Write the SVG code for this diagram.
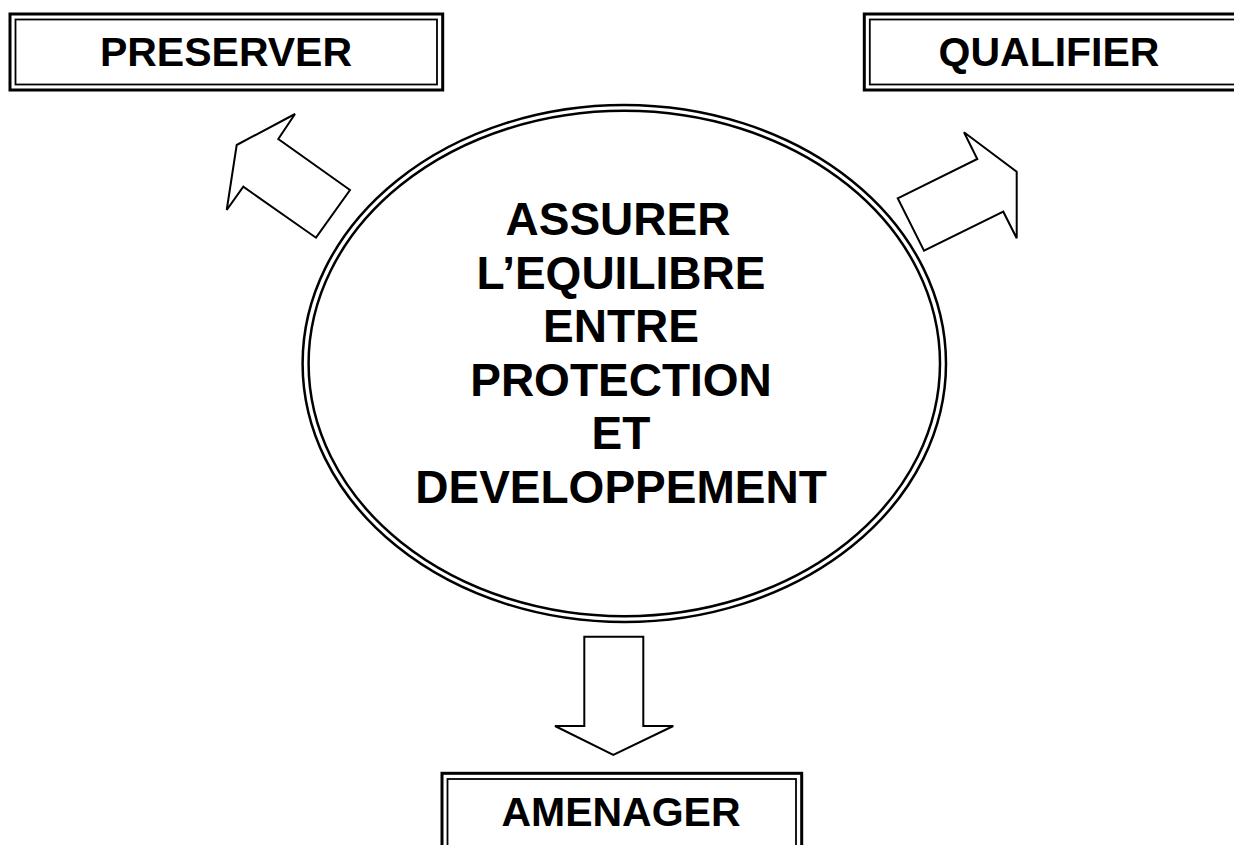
<svg xmlns="http://www.w3.org/2000/svg" width="1234" height="845" viewBox="0 0 1234 845">
  <style>
    .frame-outer { fill: #ffffff; stroke: #000000; stroke-width: 3; }
    .frame-inner { fill: none; stroke: #000000; stroke-width: 1.8; }
    .label { font-family: "Liberation Sans", Arial, sans-serif; font-weight: bold; fill: #000000; text-anchor: middle; }
    .box-label { font-size: 41px; }
    .core-label { font-size: 46px; }
    .arrow { fill: #ffffff; stroke: #000000; stroke-width: 2; stroke-linejoin: miter; }
    .ring { fill: none; stroke: #000000; stroke-width: 2.5; }
  </style>
  <rect width="1234" height="845" fill="#ffffff"/>

  <!-- central ellipse drawn as a double ring -->
  <g id="core">
    <ellipse class="ring" cx="624.3" cy="363.5" rx="321.7" ry="258.5" fill="#ffffff"/>
    <ellipse class="ring" cx="624.3" cy="363.5" rx="315.7" ry="252.7"/>
    <text class="label core-label" x="618" y="235">ASSURER</text>
    <text class="label core-label" x="621" y="288.5">L’EQUILIBRE</text>
    <text class="label core-label" x="621" y="342">ENTRE</text>
    <text class="label core-label" x="621" y="395.5">PROTECTION</text>
    <text class="label core-label" x="621" y="449">ET</text>
    <text class="label core-label" x="621" y="502.5">DEVELOPPEMENT</text>
  </g>

  <!-- block arrows -->
  <g id="connectors">
    <polygon class="arrow" points="350,190 278.3,139 295,114 236.7,145 226.7,210 243.3,186.7 316,237.7"/>
    <polygon class="arrow" points="897.7,198.3 977.3,159 964,132.3 1016.7,171.7 1016.7,238.3 1003.3,211.7 924,250.7"/>
    <polygon class="arrow" points="584.3,636.7 643.3,636.7 643.3,726 673.3,726 613.3,755 555,726 584.3,726"/>
  </g>

  <g id="preserver">
    <rect class="frame-outer" x="10" y="14" width="432.7" height="76"/>
    <rect class="frame-inner" x="15.5" y="19.5" width="421.5" height="65"/>
    <text class="label box-label" x="226" y="66">PRESERVER</text>
  </g>

  <g id="qualifier">
    <rect class="frame-outer" x="864.3" y="14" width="380" height="76"/>
    <rect class="frame-inner" x="869.8" y="19.5" width="370" height="65"/>
    <text class="label box-label" x="1049" y="66">QUALIFIER</text>
  </g>

  <g id="amenager">
    <rect class="frame-outer" x="442" y="773.3" width="359.7" height="90"/>
    <rect class="frame-inner" x="447.5" y="779" width="348.5" height="80"/>
    <text class="label box-label" x="621" y="826">AMENAGER</text>
  </g>
</svg>
